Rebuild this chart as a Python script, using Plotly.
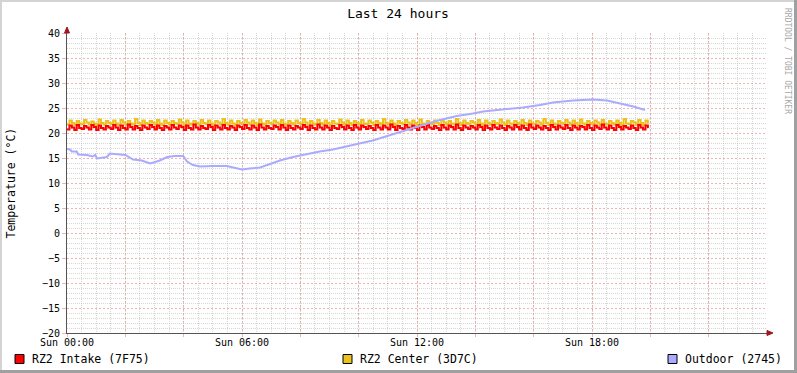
import plotly.graph_objects as go
import pandas as pd

DAY = "2024-01-07"  # a Sunday

# RZ2 Intake (7F75), 5-minute samples from Sun 00:00
intake = [
 20.7,21.5,21.1, 20.6,21.6,21.0, 20.8,21.4,21.1, 20.7,21.6,21.2, 20.6,21.5,21.0,
 20.7,21.4,21.1, 20.8,21.6,21.1, 20.6,21.5,21.0, 20.7,21.7,21.2, 20.7,21.4,21.0,
 20.6,21.5,21.1, 20.8,21.6,21.2, 20.7,21.5,21.0, 20.6,21.4,21.1, 20.7,21.6,21.1,
 20.8,21.5,21.2, 20.6,21.5,21.0, 20.7,21.7,21.1, 20.7,21.4,21.0, 20.8,21.6,21.2,
 20.6,21.5,21.1, 20.7,21.6,21.0, 20.7,21.4,21.1, 20.6,21.5,21.2, 20.8,21.6,21.0,
 20.7,21.5,21.1, 20.6,21.7,21.1, 20.7,21.4,21.0, 20.8,21.5,21.2, 20.7,21.6,21.1,
 20.6,21.5,21.0, 20.7,21.4,21.1, 20.8,21.6,21.2, 20.6,21.5,21.0, 20.7,21.7,21.1,
 20.7,21.5,21.1, 20.6,21.4,21.0, 20.8,21.6,21.2, 20.7,21.5,21.0, 20.6,21.6,21.1,
 20.7,21.5,21.2, 20.8,21.4,21.0, 20.6,21.6,21.1, 20.7,21.5,21.1, 20.7,21.7,21.2,
 20.6,21.4,21.0, 20.8,21.6,21.1, 20.7,21.5,21.0, 20.6,21.5,21.2, 20.7,21.6,21.1,
 20.8,21.4,21.0, 20.6,21.6,21.1, 20.7,21.5,21.2, 20.7,21.7,21.0, 20.6,21.5,21.1,
 20.8,21.4,21.1, 20.7,21.6,21.2, 20.6,21.5,21.0, 20.7,21.6,21.1, 20.8,21.5,21.0,
 20.6,21.4,21.1, 20.7,21.6,21.2, 20.7,21.5,21.0, 20.6,21.7,21.1, 20.8,21.5,21.1,
 20.7,21.4,21.0, 20.6,21.6,21.2, 20.7,21.5,21.1, 20.8,21.6,21.0, 20.6,21.5,21.1,
 20.7,21.4,21.2, 20.7,21.6,21.0, 20.6,21.5,21.1, 20.8,21.7,21.1, 20.7,21.5,21.0,
 20.6,21.6,21.2, 20.7,21.4,21.1, 20.8,21.5,21.0, 20.6,21.6,21.1, 20.7,21.5,21.0,
]

# RZ2 Center (3D7C), 5-minute samples from Sun 00:00
center = [
 21.7,22.5,22.0, 21.6,22.4,21.9, 21.8,22.6,22.1, 21.7,22.3,21.9, 21.6,22.7,22.0,
 21.7,22.4,22.0, 21.8,22.5,21.9, 21.6,22.6,22.1, 21.7,22.4,21.9, 21.7,22.8,22.0,
 21.6,22.5,22.0, 21.8,22.4,22.1, 21.7,22.6,21.9, 21.6,22.5,22.0, 21.7,22.4,22.0,
 21.8,22.7,22.1, 21.6,22.5,21.9, 21.7,22.4,22.0, 21.7,22.6,22.0, 21.8,22.5,21.9,
 21.6,22.4,22.1, 21.7,22.8,22.0, 21.7,22.5,21.9, 21.6,22.4,22.0, 21.8,22.6,22.1,
 21.7,22.5,22.0, 21.6,22.7,21.9, 21.7,22.4,22.0, 21.8,22.5,22.1, 21.7,22.6,21.9,
 21.6,22.4,22.0, 21.7,22.5,22.0, 21.8,22.8,22.1, 21.6,22.4,21.9, 21.7,22.6,22.0,
 21.7,22.5,22.0, 21.6,22.4,21.9, 21.8,22.7,22.1, 21.7,22.5,22.0, 21.6,22.4,22.0,
 21.7,22.6,21.9, 21.8,22.5,22.1, 21.6,22.4,22.0, 21.7,22.8,22.0, 21.7,22.5,21.9,
 21.6,22.4,22.0, 21.8,22.6,22.1, 21.7,22.5,22.0, 21.6,22.7,21.9, 21.7,22.4,22.0,
 21.8,22.5,22.0, 21.6,22.6,22.1, 21.7,22.4,21.9, 21.7,22.8,22.0, 21.6,22.5,22.0,
 21.8,22.4,22.1, 21.7,22.6,21.9, 21.6,22.5,22.0, 21.7,22.4,22.0, 21.8,22.7,22.1,
 21.6,22.5,21.9, 21.7,22.4,22.0, 21.7,22.6,22.0, 21.6,22.5,21.9, 21.8,22.4,22.1,
 21.7,22.8,22.0, 21.6,22.5,21.9, 21.7,22.4,22.0, 21.8,22.6,22.1, 21.7,22.5,22.0,
 21.6,22.7,21.9, 21.7,22.4,22.0, 21.8,22.5,22.1, 21.6,22.6,21.9, 21.7,22.4,22.0,
 21.7,22.5,22.0, 21.6,22.8,21.9, 21.8,22.4,22.1, 21.7,22.6,22.0, 21.6,22.5,21.9,
]

# Outdoor (2745)
outdoor_times = [
 "00:00","00:06","00:10","00:20","00:23","00:41","00:53","00:58","01:02","01:22",
 "01:28","02:00","02:16","02:34","02:51","03:11","03:26","03:42","03:59","04:07",
 "04:19","04:34","05:00","05:29","05:42","06:00","06:16","06:37","06:58","07:18",
 "07:45","08:14","08:40","09:07","09:36","09:57","10:29","11:04","11:39","12:12",
 "12:47","13:22","13:55","14:16","15:05","15:38","16:13","16:40","17:21","18:02",
 "18:31","18:51","19:25","19:49",
]
outdoor = [
 16.8,16.7,16.3,16.3,15.7,15.6,15.3,15.6,14.9,15.2,
 15.9,15.6,14.7,14.5,13.9,14.5,15.2,15.4,15.4,14.3,
 13.6,13.3,13.4,13.4,13.1,12.7,12.9,13.1,13.8,14.5,
 15.2,15.8,16.3,16.7,17.4,17.8,18.5,19.6,20.6,21.6,
 22.6,23.4,23.9,24.3,24.8,25.1,25.6,26.1,26.5,26.7,
 26.5,26.1,25.3,24.6,
]

series_names = ["RZ2 Intake (7F75)", "RZ2 Center (3D7C)", "Outdoor (2745)"]
series_colors = ["#FF0000", "#E9C21E", "#AAAAFF"]

MONO = "DejaVu Sans Mono"

t5 = pd.date_range(f"{DAY} 00:00", periods=len(intake), freq="5min")
t_out = pd.to_datetime([f"{DAY} {t}" for t in outdoor_times])

fig = go.Figure()
fig.add_trace(go.Scatter(x=t5, y=center, mode="lines", line=dict(color=series_colors[1], width=2, shape="hv"),
                         name=series_names[1], showlegend=False))
fig.add_trace(go.Scatter(x=t5, y=intake, mode="lines", line=dict(color=series_colors[0], width=2, shape="hv"),
                         name=series_names[0], showlegend=False))
fig.add_trace(go.Scatter(x=t_out, y=outdoor, mode="lines", line=dict(color=series_colors[2], width=2),
                         name=series_names[2], showlegend=False))

W, H = 797, 373
L, R, T, B = 67, 30, 33, 40
PW, PH = W - L - R, H - T - B


def px(x):
    return (x - L) / PW


def py(y):
    return (H - B - y) / PH


tick_times = pd.date_range(f"{DAY} 00:00", f"{DAY} 22:00", freq="2h")
tick_text = [t.strftime("Sun %H:%M") if t.hour % 6 == 0 else "" for t in tick_times]

MAJOR = "rgba(228,140,140,0.65)"
MINOR = "rgba(175,175,175,0.5)"
MAJOR_DASH = "2px,2px"
MINOR_DASH = "1px,1px"

fig.update_xaxes(
    range=[f"{DAY} 00:00", "2024-01-08 00:00"],
    tickmode="array", tickvals=list(tick_times), ticktext=tick_text,
    showgrid=True, gridcolor=MAJOR, griddash=MAJOR_DASH, gridwidth=1,
    minor=dict(tickmode="linear", tick0=f"{DAY} 00:00", dtick=30 * 60 * 1000,
               showgrid=True, gridcolor=MINOR, griddash=MINOR_DASH, gridwidth=1),
    showline=True, linecolor="#555555", linewidth=1,
    ticks="outside", ticklen=3, tickcolor=MAJOR, ticklabelstandoff=-3,
    tickfont=dict(family=MONO, size=10, color="#000000"),
    zeroline=False, fixedrange=True,
)
fig.update_yaxes(
    range=[-20, 40], tickmode="linear", tick0=-20, dtick=5,
    showgrid=True, gridcolor=MAJOR, griddash=MAJOR_DASH, gridwidth=1,
    minor=dict(tickmode="linear", tick0=-20, dtick=1, showgrid=True,
               gridcolor=MINOR, griddash=MINOR_DASH, gridwidth=1),
    showline=True, linecolor="#555555", linewidth=1,
    ticks="outside", ticklen=4, tickcolor=MAJOR,
    tickfont=dict(family=MONO, size=10, color="#000000"),
    zeroline=False, fixedrange=True,
)

shapes = []
# frame of the image (3D border)
shapes.append(dict(type="rect", xref="paper", yref="paper", x0=px(0), x1=px(W), y0=py(0), y1=py(2),
                   fillcolor="#D4D4D4", line=dict(width=0), layer="above"))
shapes.append(dict(type="rect", xref="paper", yref="paper", x0=px(0), x1=px(2), y0=py(0), y1=py(H),
                   fillcolor="#D4D4D4", line=dict(width=0), layer="above"))
shapes.append(dict(type="rect", xref="paper", yref="paper", x0=px(0), x1=px(W), y0=py(H - 3), y1=py(H),
                   fillcolor="#A0A0A0", line=dict(width=0), layer="above"))
shapes.append(dict(type="rect", xref="paper", yref="paper", x0=px(W - 3), x1=px(W), y0=py(0), y1=py(H),
                   fillcolor="#A0A0A0", line=dict(width=0), layer="above"))
# axis arrows
shapes.append(dict(type="path", xref="paper", yref="paper",
                   path=f"M {px(767)} {py(330.5)} L {px(773)} {py(333)} L {px(767)} {py(335.5)} Z",
                   fillcolor="#A01818", line=dict(color="#A01818", width=1), layer="above"))
shapes.append(dict(type="path", xref="paper", yref="paper",
                   path=f"M {px(64.5)} {py(33)} L {px(67)} {py(27)} L {px(69.5)} {py(33)} Z",
                   fillcolor="#A01818", line=dict(color="#A01818", width=1), layer="above"))

annotations = []
# legend
legend_x = [15, 343, 668]
for name, color, lx in zip(series_names, series_colors, legend_x):
    shapes.append(dict(type="rect", xref="paper", yref="paper", x0=px(lx), x1=px(lx + 9),
                       y0=py(363.5), y1=py(354.5), fillcolor=color,
                       line=dict(color="#000000", width=1), layer="above"))
    annotations.append(dict(text=name, xref="paper", yref="paper", x=px(lx + 15), y=py(359),
                            xanchor="left", yanchor="middle", showarrow=False,
                            font=dict(family=MONO, size=11.5, color="#000000")))

# y axis title
annotations.append(dict(text="Temperature (°C)", xref="paper", yref="paper", x=px(10.5), y=py(183),
                        textangle=-90, xanchor="center", yanchor="middle", showarrow=False,
                        font=dict(family=MONO, size=11.5, color="#000000")))
# watermark
annotations.append(dict(text="RRDTOOL / TOBI OETIKER", xref="paper", yref="paper", x=px(788), y=py(61),
                        textangle=90, xanchor="center", yanchor="middle", showarrow=False,
                        font=dict(family=MONO, size=8, color="#A8A8A8")))

fig.update_layout(
    width=W, height=H,
    margin=dict(l=L, r=R, t=T, b=B, pad=0),
    paper_bgcolor="#FFFFFF", plot_bgcolor="#FFFFFF",
    title=dict(text="Last 24 hours", x=px(398), xref="paper", y=1 - 13 / H, yref="container",
               xanchor="center", yanchor="middle",
               font=dict(family=MONO, size=13, color="#000000")),
    showlegend=False,
    shapes=shapes,
    annotations=annotations,
)

fig.write_html("out.html",
               config={"displayModeBar": False, "staticPlot": True},
               post_script="document.body.style.margin='0px';document.body.style.padding='0px';"
                           "document.body.style.overflow='hidden';")
